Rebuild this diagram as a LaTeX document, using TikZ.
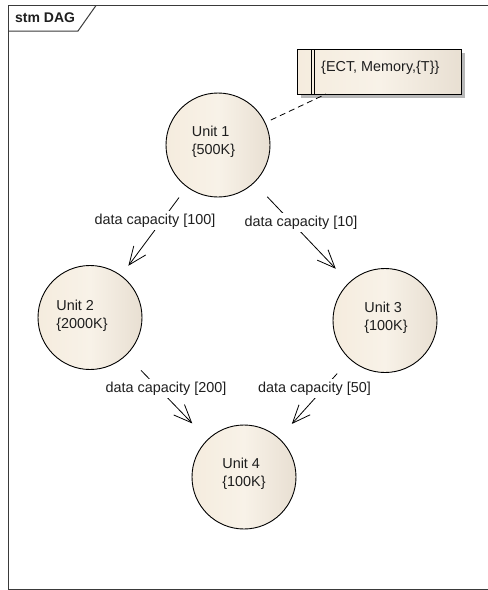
\documentclass[tikz,border=0pt]{standalone}
\usepackage{fontspec}
\setmainfont{Liberation Sans}
\usetikzlibrary{arrows.meta}

\definecolor{stateL}{HTML}{F5ECDE}
\definecolor{stateM}{HTML}{F8F2E8}
\definecolor{stateR}{HTML}{E8DFD2}
\definecolor{framecol}{HTML}{3A3A3A}
\definecolor{inkcol}{HTML}{1E1E1E}

\tikzset{
  txt/.style={font=\fontsize{14.4}{17.5}\selectfont, text=inkcol},
  frameline/.style={draw=framecol, line width=1pt},
  unitstate/.style={circle, draw=black, line width=0.9pt, minimum size=104pt,
    inner sep=0pt, left color=stateL, right color=stateR, middle color=stateM},
  unittext/.style={txt, align=left, inner sep=0pt},
  transition/.style={draw=black, line width=0.8pt, line join=round,
    -{Straight Barb[length=18pt,width=15pt,line width=0.8pt]}},
  guardlabel/.style={txt, fill=white, inner xsep=1pt, inner ysep=3pt, anchor=base},
  notebox/.style={draw=black, line width=0.9pt, left color=stateL, right color=stateR,
    middle color=stateM},
  notelink/.style={draw=black, line width=0.8pt, dash pattern=on 6pt off 4pt},
}

\begin{document}
\begin{tikzpicture}[x=1pt,y=-1pt]
\useasboundingbox (0,0) rectangle (488,590);

% diagram frame with its name tab
\draw[frameline] (492,5.5) -- (8,5.5) -- (8,589) -- (492,589);
\draw[frameline] (8,31) -- (78,31) -- (96,5.5);
\node[txt, font=\fontsize{14}{16}\selectfont\bfseries, anchor=base west, inner sep=0pt]
  (title) at (15,22) {stm DAG};

% note with its shadow
\fill[black!28] (301,53) rectangle (465,98);
\node[notebox, minimum width=164pt, minimum height=45pt, inner sep=0pt, anchor=north west]
  (note) at (297,49) {};
\draw[black, line width=0.8pt] (311,49) -- (311,94);
\draw[black, line width=0.8pt] (314,49) -- (314,94);
\node[txt, anchor=base west, inner sep=0pt] (notetext) at (321,71) {\{ECT, Memory,\{T\}\}};
\coordinate (noteanchor) at (326,94);

% states
\node[unitstate] (u1) at (218,145) {};
\node[unitstate] (u2) at (90,317.5) {};
\node[unitstate] (u3) at (385,320.5) {};
\node[unitstate] (u4) at (244,477) {};

\node[unittext] (t1) at (213.5,142) {Unit 1\\\{500K\}};
\node[unittext] (t2) at (82,316) {Unit 2\\\{2000K\}};
\node[unittext] (t3) at (386,318) {Unit 3\\\{100K\}};
\node[unittext] (t4) at (244,474) {Unit 4\\\{100K\}};

% note attachment
\draw[notelink, shorten <=6pt] (u1) -- (noteanchor);

% transitions
\draw[transition, shorten <=13pt, shorten >=12pt] (u1) -- (u2);
\draw[transition, shorten <=19pt, shorten >=19pt] (u1) -- (u3);
\draw[transition, shorten <=21pt, shorten >=22pt] (u2) -- (u4);
\draw[transition, shorten <=19pt, shorten >=19pt] (u3) -- (u4);

% guard labels, laid over the transition lines
\node[guardlabel] (g12) at (155,224) {data capacity [100]};
\node[guardlabel] (g13) at (301,226.5) {data capacity [10]};
\node[guardlabel] (g24) at (166,392) {data capacity [200]};
\node[guardlabel] (g34) at (314.5,392) {data capacity [50]};
\end{tikzpicture}
\end{document}
